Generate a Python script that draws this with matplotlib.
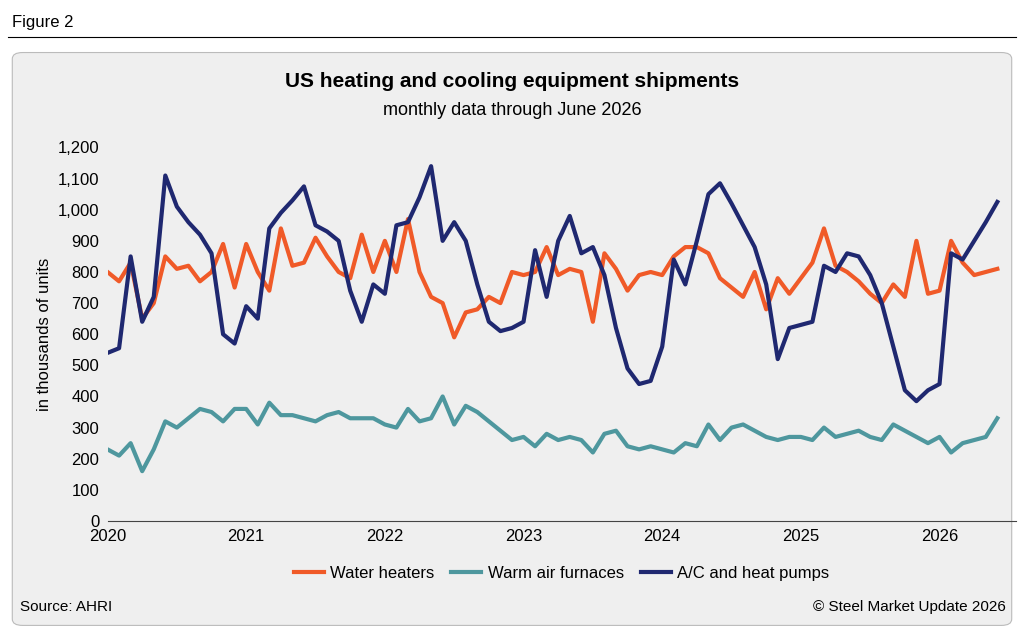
import matplotlib
matplotlib.use("Agg")
import matplotlib.pyplot as plt
import numpy as np
from matplotlib.patches import FancyBboxPatch

plt.rcParams['font.family'] = ['Liberation Sans', 'DejaVu Sans']

years = ['2020', '2021', '2022', '2023', '2024', '2025', '2026']
water_heaters = [800,770,830,650,700,850,810,820,770,800,890,750,
                 890,800,740,940,820,830,910,850,800,780,920,800,
                 900,800,970,800,720,700,590,670,680,720,700,800,
                 790,800,880,790,810,800,640,860,810,740,790,800,
                 790,850,880,880,860,780,750,720,800,680,780,730,
                 780,830,940,820,800,770,730,700,760,720,900,730,
                 740,900,830,790,800,810]
warm_air_furnaces = [230,210,250,160,230,320,300,330,360,350,320,360,
                     360,310,380,340,340,330,320,340,350,330,330,330,
                     310,300,360,320,330,400,310,370,350,320,290,260,
                     270,240,280,260,270,260,220,280,290,240,230,240,
                     230,220,250,240,310,260,300,310,290,270,260,270,
                     270,260,300,270,280,290,270,260,310,290,270,250,
                     270,220,250,260,270,330]
ac_heat_pumps = [540,555,850,640,720,1110,1010,960,920,860,600,570,
                 690,650,940,990,1030,1075,950,930,900,740,640,760,
                 730,950,960,1040,1140,900,960,900,760,640,610,620,
                 640,870,720,900,980,860,880,790,620,490,440,450,
                 560,840,760,900,1050,1085,1020,950,880,760,520,620,
                 630,640,820,800,860,850,790,700,560,420,385,420,
                 440,860,840,900,960,1025]

x = 2020 + np.arange(len(ac_heat_pumps)) / 12.0

fig = plt.figure(figsize=(10.24, 6.33), dpi=100)
fig.patch.set_facecolor('white')
fig.text(0.012, 0.965, 'Figure 2', fontsize=12, va='center')
fig.add_artist(plt.Line2D([0.008, 0.992], [0.942, 0.942], color='black', lw=0.8))
panel = FancyBboxPatch((0.012, 0.012), 0.976, 0.905, boxstyle='round,pad=0,rounding_size=0.01',
                       transform=fig.transFigure, facecolor='#efefef', edgecolor='#bbbbbb', lw=0.8,
                       zorder=-10)
fig.add_artist(panel)

fig.text(0.5, 0.862, 'US heating and cooling equipment shipments', ha='center', fontsize=15, fontweight='bold')
fig.text(0.5, 0.818, 'monthly data through June 2026', ha='center', fontsize=13)

ax = fig.add_axes([0.105, 0.177, 0.887, 0.59])
ax.set_zorder(5)
ax.patch.set_alpha(0)
ax.plot(x, water_heaters, color='#f05a28', lw=3, solid_joinstyle='round', label='Water heaters')
ax.plot(x, warm_air_furnaces, color='#4e979e', lw=3, solid_joinstyle='round', label='Warm air furnaces')
ax.plot(x, ac_heat_pumps, color='#1f2870', lw=3, solid_joinstyle='round', label='A/C and heat pumps')
ax.set_xlim(2020, 2026.55)
ax.set_ylim(0, 1200)
ax.set_yticks(range(0, 1201, 100))
ax.set_yticklabels([f'{v:,}' for v in range(0, 1201, 100)], fontsize=12)
ax.set_xticks([int(y) for y in years])
ax.set_xticklabels(years, fontsize=12)
ax.tick_params(length=0, pad=6)
for s in ['top', 'right', 'left']:
    ax.spines[s].set_visible(False)
ax.spines['bottom'].set_color('#444444')
ax.set_ylabel('in thousands of units', fontsize=12)
ax.legend(loc='upper center', bbox_to_anchor=(0.5, -0.08), ncol=3, frameon=False, fontsize=12,
          handlelength=1.8, columnspacing=1.0, handletextpad=0.4)

fig.text(0.02, 0.035, 'Source: AHRI', fontsize=11)
fig.text(0.982, 0.035, '© Steel Market Update 2026', fontsize=11, ha='right')

fig.savefig('out.png', dpi=100, facecolor='white')
